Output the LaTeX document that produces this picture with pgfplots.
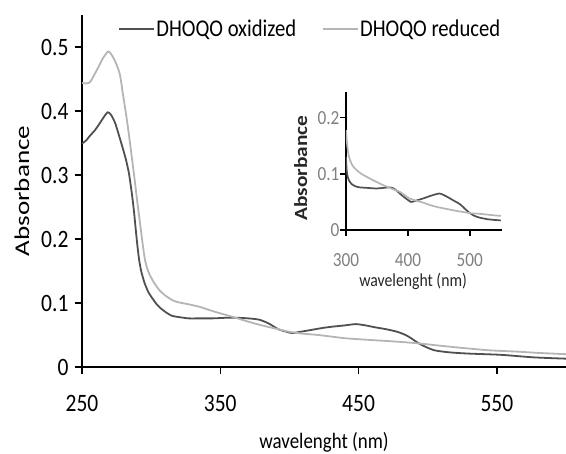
\documentclass[border=0pt]{standalone}
\usepackage{fontspec}
\setmainfont[FakeStretch=0.86]{Carlito}
\usepackage{graphicx}
\usepackage{pgfplots}
\pgfplotsset{compat=1.18}
\definecolor{oxid}{HTML}{505050}
\definecolor{redu}{HTML}{B5B5B5}
\definecolor{insettick}{HTML}{808080}
\begin{document}
\begin{tikzpicture}
\useasboundingbox (-82pt,-87pt) rectangle (484pt,367pt);
% main spectrum
\begin{axis}[
  at={(0pt,0pt)}, anchor=south west,
  scale only axis, width=484pt, height=352pt,
  xmin=250, xmax=600, ymin=0, ymax=0.55,
  axis lines=left, axis line style={-, line width=1.5pt, black},
  tick style={line width=1.5pt, black}, major tick length=7pt, tick align=outside,
  xtick={250,350,450,550}, xticklabels={250,350,450,550},
  ytick={0,0.1,0.2,0.3,0.4,0.5}, yticklabels={0,0.1,0.2,0.3,0.4,0.5},
  xticklabel style={font=\fontsize{25}{29}\selectfont, yshift=-18pt},
  yticklabel style={font=\fontsize{25}{29}\selectfont, xshift=-3pt},
  xlabel={wavelenght (nm)},
  ylabel={\scalebox{1.5}[1]{Absorbance}},
  x label style={at={(axis description cs:0.5,-0.213)}, anchor=center, font=\fontsize{22}{26}\selectfont},
  y label style={at={(axis description cs:-0.124,0.5)}, anchor=center, font=\fontsize{21}{25}\selectfont},
  legend columns=2,
  legend style={draw=none, fill=none, inner sep=0pt, at={(axis description cs:0.074,0.96)}, anchor=west,
    font=\fontsize{24}{28}\selectfont, nodes={inner sep=1.5pt},
    /tikz/every even column/.append style={column sep=24pt}},
  legend image code/.code={\draw[#1] (0pt,0pt) -- (35pt,0pt);},
]
\addplot[oxid, line width=1.8pt, smooth, tension=0.4] coordinates {
  (250,0.349)(253,0.354)(256,0.362)(259,0.369)(262,0.378)(265,0.388)(268.5,0.398)
  (271,0.394)(274,0.381)(277,0.360)(280,0.338)(282,0.322)(284,0.302)(286,0.272)
  (287.5,0.245)(289,0.212)(290.3,0.185)(291.5,0.165)(293,0.148)(295.3,0.131)(298,0.117)
  (301.3,0.106)(304,0.098)(307.3,0.091)(311,0.085)(315,0.080)(320,0.078)(327,0.076)
  (335,0.076)(345,0.076)(355,0.077)(361,0.077)(370,0.076)(378,0.074)(385,0.068)
  (392,0.059)(398,0.055)(402,0.053)(408,0.055)(416,0.058)(424,0.061)(431,0.063)
  (440,0.065)(448,0.067)(455,0.065)(462,0.062)(470,0.059)(478,0.055)(484,0.050)
  (488,0.045)(492,0.039)(496,0.034)(500,0.030)(505,0.026)(515,0.023)(529,0.021)
  (553,0.019)(577,0.015)(600,0.013)
};
\addlegendentry{DHOQO oxidized}
\addplot[redu, line width=1.8pt, smooth, tension=0.4] coordinates {
  (250,0.444)(253,0.443)(255.8,0.445)(258,0.453)(261.7,0.468)(265,0.482)(268.9,0.493)
  (271,0.489)(273.7,0.479)(277.3,0.458)(279.7,0.425)(282,0.393)(284,0.362)(286,0.328)
  (288,0.294)(290,0.258)(292,0.224)(294,0.190)(295.5,0.168)(297,0.155)(299,0.144)
  (302,0.132)(306,0.120)(310,0.112)(315.7,0.104)(320,0.101)(327,0.098)(335,0.094)
  (345,0.087)(353,0.082)(361,0.077)(370,0.071)(380,0.065)(390,0.060)(400,0.055)
  (410,0.052)(421,0.050)(440,0.045)(460,0.042)(475,0.040)(493,0.037)(510,0.033)
  (529,0.029)(545,0.026)(565,0.024)(580,0.022)(600,0.020)
};
\addlegendentry{DHOQO reduced}
\end{axis}
% inset
\begin{axis}[
  at={(264pt,137pt)}, anchor=south west,
  scale only axis, width=156pt, height=138pt,
  xmin=300, xmax=552, ymin=0, ymax=0.246,
  axis lines=left, axis line style={-, line width=1.4pt, black},
  tick style={line width=1.4pt, black}, major tick length=6pt, tick align=outside,
  xtick={300,400,500}, xticklabels={300,400,500},
  ytick={0,0.1,0.2}, yticklabels={0,0.1,0.2},
  xticklabel style={font=\fontsize{20}{24}\selectfont, text=insettick, yshift=-14pt},
  yticklabel style={font=\fontsize{20}{24}\selectfont, text=insettick, xshift=3pt},
  xlabel={wavelenght (nm)},
  ylabel={\scalebox{1.34}[1]{\bfseries Absorbance}},
  x label style={at={(axis description cs:0.43,-0.37)}, anchor=center, font=\fontsize{18.3}{22}\selectfont, text=black!85},
  y label style={at={(axis description cs:-0.29,0.449)}, anchor=center, font=\fontsize{18.5}{22}\selectfont, text=black!85},
]
\addplot[oxid, line width=1.7pt, smooth, tension=0.4] coordinates {
  (300,0.130)(301,0.108)(302.5,0.096)(305,0.088)(309,0.082)(315,0.078)(322,0.076)
  (335,0.075)(349,0.074)(360,0.075)(371,0.076)(377,0.074)(382,0.070)(390,0.062)
  (397,0.056)(405,0.050)(412,0.052)(424,0.056)(437,0.061)(451,0.065)(462,0.060)
  (473,0.053)(484,0.046)(492,0.038)(500,0.030)(508,0.025)(516,0.022)(530,0.019)
  (550,0.017)
};
\addplot[redu, line width=1.7pt, smooth, tension=0.4] coordinates {
  (300,0.178)(302,0.150)(304,0.135)(306.4,0.125)(311,0.114)(317,0.107)(325,0.100)
  (333,0.095)(345,0.088)(360,0.080)(373,0.074)(387,0.068)(396,0.061)(403,0.056)
  (414,0.052)(424,0.049)(437,0.044)(451,0.040)(465,0.037)(478,0.034)(490,0.032)
  (500,0.030)(515,0.029)(532,0.027)(550,0.025)
};
\end{axis}
\end{tikzpicture}
\end{document}
